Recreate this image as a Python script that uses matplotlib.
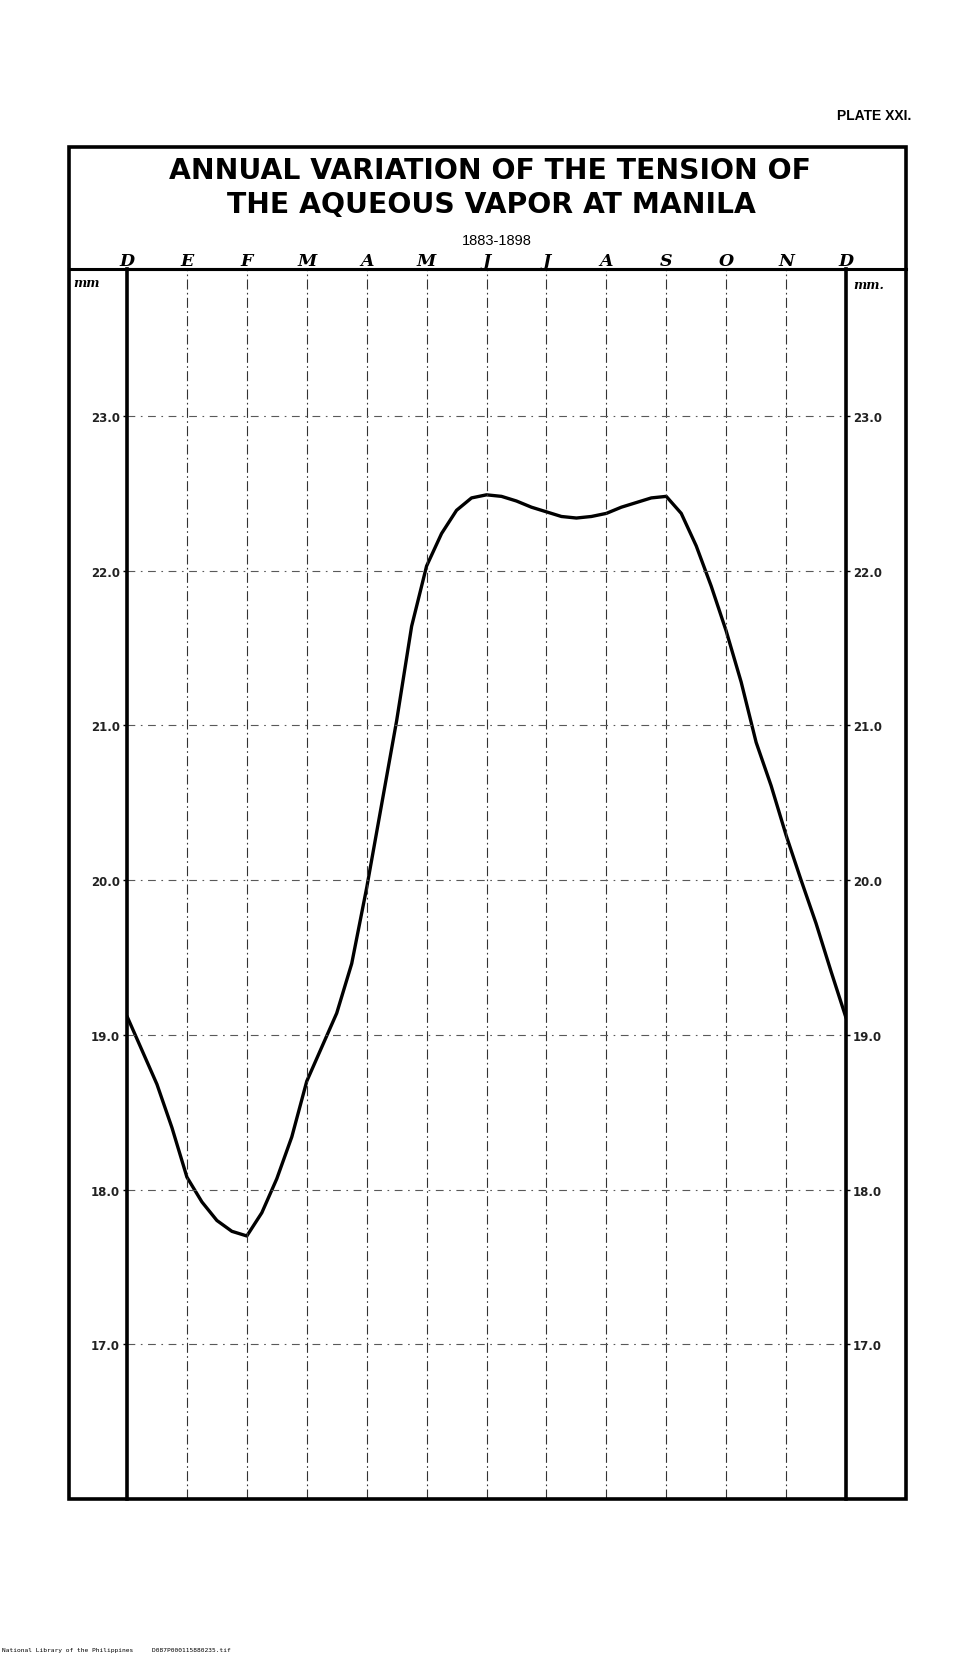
import matplotlib.pyplot as plt
import numpy as np
from matplotlib.patches import Rectangle
from matplotlib.lines import Line2D

# meses (de diciembre a diciembre) y valores leidos cada cuarto de mes
meses = ["D", "E", "F", "M", "A", "M", "J", "J", "A", "S", "O", "N", "D"]
posicion = [0, 0.25, 0.5, 0.75, 1, 1.25, 1.5, 1.75, 2, 2.25, 2.5, 2.75,
            3, 3.25, 3.5, 3.75, 4, 4.25, 4.5, 4.75, 5, 5.25, 5.5, 5.75,
            6, 6.25, 6.5, 6.75, 7, 7.25, 7.5, 7.75, 8, 8.25, 8.5, 8.75,
            9, 9.25, 9.5, 9.75, 10, 10.25, 10.5, 10.75, 11, 11.25, 11.5, 11.75, 12]
tension = [19.12, 18.90, 18.68, 18.40, 18.08, 17.92, 17.80, 17.73,
           17.70, 17.85, 18.07, 18.34, 18.70, 18.92, 19.14, 19.46,
           19.95, 20.49, 21.03, 21.64, 22.03, 22.24, 22.39, 22.47,
           22.49, 22.48, 22.45, 22.41, 22.38, 22.35, 22.34, 22.35,
           22.37, 22.41, 22.44, 22.47, 22.48, 22.37, 22.16, 21.90,
           21.61, 21.28, 20.89, 20.61, 20.29, 20.00, 19.72, 19.41, 19.11]
niveles = [17, 18, 19, 20, 21, 22, 23]
etiquetas_y = ["17.0", "18.0", "19.0", "20.0", "21.0", "22.0", "23.0"]

fig = plt.figure(figsize=(9.74, 16.58), dpi=100)
fig.patch.set_facecolor("white")

ax = fig.add_axes([0.1304, 0.0953, 0.7382, 0.7419])
ax.plot(posicion, tension, color="black", lw=2.4, solid_joinstyle="round",
        solid_capstyle="round")
ax.set_xlim(0, 12)
ax.set_ylim(16.0, 23.95)

# rejilla punto-raya
ax.set_xticks(range(13))
ax.set_xticklabels(meses, fontfamily="DejaVu Serif", fontweight="bold",
                   fontstyle="italic", fontsize=12.5)
ax.xaxis.tick_top()
ax.set_yticks(niveles)
ax.set_yticklabels(etiquetas_y, fontweight="bold", fontsize=8.5, color="#222222")
ax.tick_params(axis="x", length=0, pad=0)
ax.tick_params(axis="y", length=3, width=1, pad=2, left=True, right=True,
               labelleft=True, labelright=True)
for m in range(1, 12):
    ax.axvline(m, color="0.2", lw=0.8, ls=(0, (9, 3, 1.5, 3)))
for n in niveles:
    ax.axhline(n, color="0.35", lw=0.8, ls=(0, (7, 5, 1.5, 5)))

for lado in ["left", "right"]:
    ax.spines[lado].set_linewidth(2.6)
ax.spines["top"].set_linewidth(2.2)
ax.spines["bottom"].set_visible(False)

# marco exterior y linea de la cabecera
fig.add_artist(Rectangle((0.0708, 0.0953), 0.8593, 0.8154, transform=fig.transFigure,
                         fill=False, lw=2.6, ec="black"))
fig.add_artist(Line2D([0.0708, 0.9301], [0.8372, 0.8372], transform=fig.transFigure,
                      color="black", lw=2.2))

fig.text(0.503, 0.897, "ANNUAL VARIATION OF THE TENSION OF", ha="center", va="center",
         fontfamily="DejaVu Sans", fontweight="bold", fontsize=20.3)
fig.text(0.505, 0.8765, "THE AQUEOUS VAPOR AT MANILA", ha="center", va="center",
         fontfamily="DejaVu Sans", fontweight="bold", fontsize=20.3)
fig.text(0.510, 0.8548, "1883-1898", ha="center", va="center",
         fontfamily="Liberation Sans", fontsize=10.5)
fig.text(0.936, 0.930, "PLATE XXI.", ha="right", va="center",
         fontfamily="Liberation Sans", fontweight="bold", fontsize=10)
fig.text(0.089, 0.829, "mm", ha="center", va="center", fontfamily="DejaVu Serif",
         fontweight="bold", fontstyle="italic", fontsize=9)
fig.text(0.892, 0.828, "mm.", ha="center", va="center", fontfamily="DejaVu Serif",
         fontweight="bold", fontstyle="italic", fontsize=9)
fig.text(0.002, 0.003, "National Library of the Philippines     D087P000115880235.tif",
         ha="left", va="bottom", fontfamily="DejaVu Sans Mono", fontsize=4.5)

plt.savefig("out.png", dpi=100)
